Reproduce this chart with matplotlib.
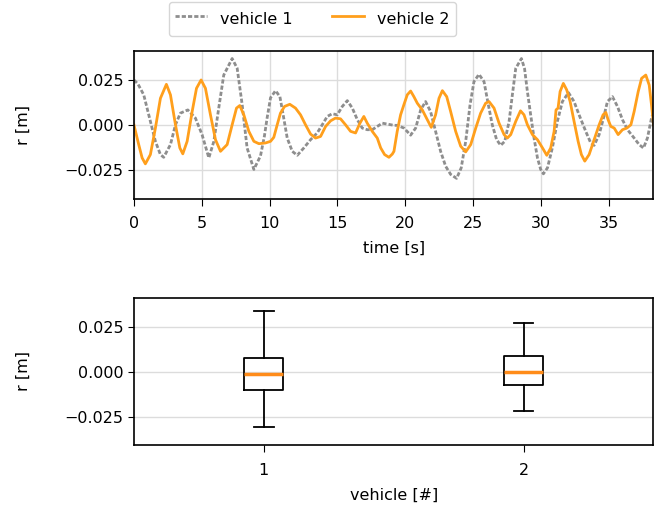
import numpy as np
import matplotlib.pyplot as plt

plt.rcParams['font.family'] = ['DejaVu Sans']
plt.rcParams['font.size'] = 11.5

# vehicle 1 lateral offset over time
t1 = [0.0, 0.3, 0.72, 1.21, 1.58, 1.95, 2.19, 2.69, 3.06, 3.42, 3.97, 4.53, 5.02, 5.52,
      5.89, 6.25, 6.62, 7.24, 7.61, 7.98, 8.34, 8.84, 9.33, 9.62, 9.82, 10.07, 10.44,
      10.76, 11.0, 11.3, 11.67, 12.04, 12.53, 13.02, 13.51, 13.88, 14.25, 14.62, 14.99,
      15.36, 15.73, 16.1, 16.47, 16.83, 17.2, 17.57, 17.94, 18.31, 18.68, 19.17, 19.41,
      19.91, 20.4, 20.77, 21.14, 21.5, 21.87, 22.24, 22.61, 22.98, 23.35, 23.79, 24.13,
      24.46, 24.78, 25.07, 25.44, 25.81, 26.13, 26.42, 26.74, 27.04, 27.34, 27.66, 27.9,
      28.15, 28.57, 28.8, 29.01, 29.25, 29.5, 29.75, 29.99, 30.19, 30.49, 30.85, 31.22,
      31.59, 32.04, 32.45, 32.82, 33.31, 33.68, 33.93, 34.3, 34.62, 34.91, 35.28, 35.65,
      36.02, 36.39, 36.88, 37.25, 37.57, 37.86, 38.16, 38.31]
r1 = [0.0248, 0.0225, 0.0166, 0.002, -0.009, -0.0163, -0.0178, -0.0108, 0.0001, 0.0065,
      0.0083, 0.0038, -0.0053, -0.0181, -0.009, 0.0093, 0.0275, 0.0366, 0.0312, 0.0111,
      -0.0126, -0.0245, -0.017, -0.006, 0.004, 0.015, 0.0189, 0.0156, 0.0056, -0.0072,
      -0.0145, -0.0167, -0.0126, -0.0081, -0.0044, 0.0001, 0.0047, 0.0062, 0.0056, 0.0102,
      0.0134, 0.0093, 0.0029, -0.0017, -0.0026, -0.0026, -0.0008, 0.001, 0.0005, -0.0002,
      -0.0002, -0.0017, -0.0056, -0.0017, 0.0083, 0.0129, 0.0074, -0.0035, -0.0145,
      -0.0227, -0.0272, -0.0294, -0.0236, -0.009, 0.0111, 0.0239, 0.0279, 0.0239, 0.0111,
      0.0001, -0.0081, -0.0112, -0.009, 0.002, 0.0166, 0.0312, 0.0366, 0.031, 0.0184,
      0.0056, -0.0072, -0.0181, -0.0245, -0.0269, -0.0236, -0.0126, 0.002, 0.0129, 0.0178,
      0.0129, 0.0056, -0.0035, -0.0099, -0.0112, -0.0053, 0.0038, 0.0129, 0.0156, 0.0102,
      0.0029, -0.0026, -0.0072, -0.0108, -0.0127, -0.0072, 0.0038, 0.0074]

# vehicle 2 lateral offset over time
t2 = [0.0, 0.35, 0.6, 0.84, 1.21, 1.58, 1.95, 2.39, 2.69, 3.06, 3.38, 3.6, 3.92, 4.29,
      4.61, 4.95, 5.27, 5.64, 6.01, 6.38, 6.87, 7.24, 7.56, 7.8, 8.1, 8.47, 8.84, 9.21,
      9.7, 10.07, 10.31, 10.56, 10.8, 11.1, 11.49, 11.91, 12.28, 12.65, 13.02, 13.39,
      13.76, 14.13, 14.5, 14.86, 15.23, 15.6, 15.97, 16.34, 16.66, 16.95, 17.2, 17.57,
      17.94, 18.19, 18.48, 18.8, 19.05, 19.17, 19.41, 19.66, 19.9, 20.15, 20.4, 20.64,
      20.89, 21.26, 21.63, 21.92, 22.24, 22.49, 22.74, 23.06, 23.35, 23.72, 24.09, 24.46,
      24.83, 25.2, 25.56, 25.93, 26.18, 26.55, 26.92, 27.29, 27.53, 27.78, 28.15, 28.5,
      28.76, 29.01, 29.38, 29.75, 30.12, 30.44, 30.73, 30.98, 31.12, 31.27, 31.42, 31.66,
      31.91, 32.16, 32.45, 32.75, 32.99, 33.24, 33.56, 33.93, 34.3, 34.59, 34.79, 34.96,
      35.16, 35.41, 35.7, 36.02, 36.34, 36.64, 36.88, 37.18, 37.43, 37.74, 37.99, 38.16,
      38.31]
r2 = [0.0, -0.0108, -0.0181, -0.0214, -0.0163, -0.0017, 0.0147, 0.0224, 0.0166, 0.0001,
      -0.0126, -0.0159, -0.009, 0.0074, 0.0202, 0.0248, 0.0202, 0.0056, -0.0081, -0.0145,
      -0.0108, 0.0001, 0.0093, 0.0107, 0.0056, -0.0035, -0.009, -0.0103, -0.0099, -0.009,
      -0.0068, 0.0001, 0.0065, 0.0102, 0.0114, 0.0093, 0.0056, 0.0001, -0.005, -0.0072,
      -0.0063, -0.0008, 0.0023, 0.0038, 0.0034, 0.0001, -0.0035, -0.0044, 0.001, 0.0047,
      0.001, -0.0035, -0.0072, -0.0126, -0.0163, -0.0178, -0.016, -0.0145, -0.0035, 0.0056,
      0.0111, 0.0166, 0.0187, 0.0156, 0.012, 0.0083, 0.0029, -0.0013, 0.0056, 0.0147,
      0.0189, 0.0156, 0.0074, -0.0035, -0.0117, -0.0148, -0.0108, -0.0017, 0.0065, 0.012,
      0.0129, 0.0093, 0.001, -0.0053, -0.0072, -0.0053, 0.002, 0.0078, 0.0056, 0.0001,
      -0.0053, -0.0081, -0.0126, -0.0167, -0.0126, -0.0035, 0.0083, 0.0093, 0.0184, 0.0229,
      0.0193, 0.0129, 0.002, -0.009, -0.0163, -0.0199, -0.0163, -0.0081, 0.0001, 0.0056,
      0.0069, 0.0029, -0.0008, -0.0017, -0.0053, -0.0026, -0.0017, 0.0001, 0.0074, 0.0184,
      0.0257, 0.0275, 0.022, 0.0111, 0.0001]

# box statistics per vehicle
vehicles = ['1', '2']
q_low = [-0.0102, -0.0074]
q_med = [-0.0011, 0.0]
q_high = [0.0078, 0.0087]
w_low = [-0.0303, -0.0219]
w_high = [0.0335, 0.0268]

grid_kw = dict(color='#dcdcdc', linewidth=1.0)

fig = plt.figure(figsize=(6.59, 5.11), dpi=100)
ax1 = fig.add_axes([0.2033, 0.6115, 0.7882, 0.2896])
ax2 = fig.add_axes([0.2033, 0.1291, 0.7882, 0.2882])

ax1.plot(t1, r1, color='#8e8e8e', linewidth=2.0, dashes=(1.5, 0.75), label='vehicle 1')
ax1.plot(t2, r2, color='#ff9f1c', linewidth=2.0, label='vehicle 2')
ax1.set_xlim(0, 38.3)
ax1.set_ylim(-0.0405, 0.041)
ax1.set_yticks([-0.025, 0.0, 0.025])
ax1.set_xticks(np.arange(0, 36, 5))
ax1.grid(True, **grid_kw)
ax1.set_axisbelow(True)

stats = []
for i in range(len(vehicles)):
    stats.append(dict(label=vehicles[i], med=q_med[i], q1=q_low[i], q3=q_high[i],
                      whislo=w_low[i], whishi=w_high[i], fliers=[]))
ax2.bxp(stats, positions=[1, 2], widths=0.15, showfliers=False,
        boxprops=dict(color='black', linewidth=1.3),
        whiskerprops=dict(color='black', linewidth=1.3),
        capprops=dict(color='black', linewidth=1.3),
        medianprops=dict(color='#ff8c1a', linewidth=2.5))
ax2.set_xlim(0.5, 2.5)
ax2.set_ylim(-0.0405, 0.041)
ax2.set_yticks([-0.025, 0.0, 0.025])
ax2.yaxis.grid(True, **grid_kw)
ax2.set_axisbelow(True)

ax1.set_xlabel('time [s]', labelpad=7)
ax2.set_xlabel('vehicle [#]', labelpad=7)
for ax in (ax1, ax2):
    ax.set_ylabel('r [m]', labelpad=24)
    ax.tick_params(axis='x', length=4.8, pad=8)
    ax.tick_params(axis='y', length=4.2)
    for s in ax.spines.values():
        s.set_linewidth(1.2)

fig.legend(loc='upper center', bbox_to_anchor=(0.474, 0.996), ncol=2,
           handlelength=2.0, handleheight=1.7, columnspacing=2.5,
           borderaxespad=0.0, fancybox=True)

fig.savefig('out.png', dpi=100)
